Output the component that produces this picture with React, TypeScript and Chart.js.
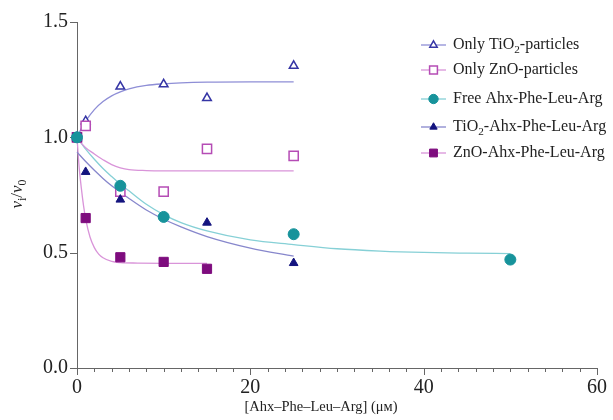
import { useEffect, useRef } from 'react';
import { Chart, registerables } from 'chart.js';
Chart.register(...registerables);

const FONT = '"Liberation Serif", "Times New Roman", serif';

// Measured points
const xOnlyTiO2 = [0, 1, 5, 10, 15, 25];
const yOnlyTiO2 = [1.0, 1.07, 1.22, 1.23, 1.17, 1.31];
const xOnlyZnO = [0, 1, 5, 10, 15, 25];
const yOnlyZnO = [1.0, 1.05, 0.765, 0.765, 0.95, 0.92];
const xFree = [0, 5, 10, 25, 50];
const yFree = [1.0, 0.79, 0.655, 0.58, 0.47];
const xTiO2Pep = [0, 1, 5, 15, 25];
const yTiO2Pep = [1.0, 0.85, 0.73, 0.63, 0.455];
const xZnOPep = [0, 1, 5, 10, 15];
const yZnOPep = [1.0, 0.65, 0.48, 0.46, 0.43];

// Fitted curves
const fxOnlyTiO2 = [0, 0.5, 1, 2, 3, 4, 5, 6, 8, 10, 12, 15, 20, 25];
const fyOnlyTiO2 = [1.0, 1.038, 1.07, 1.12, 1.155, 1.18, 1.197, 1.21, 1.225, 1.232, 1.236, 1.239, 1.24, 1.24];
const fxOnlyZnO = [0, 0.5, 1, 2, 2.5, 3, 4, 5, 6, 8, 10, 15, 20, 25];
const fyOnlyZnO = [1.0, 0.975, 0.955, 0.928, 0.915, 0.903, 0.882, 0.868, 0.86, 0.856, 0.855, 0.855, 0.855, 0.855];
const fxFree = [0, 1, 2, 3, 4, 5, 6, 8, 10, 12, 15, 20, 25, 30, 35, 40, 45, 50];
const fyFree = [1.0, 0.949, 0.905, 0.865, 0.83, 0.797, 0.768, 0.71, 0.665, 0.63, 0.594, 0.555, 0.535, 0.517, 0.507, 0.501, 0.498, 0.496];
const fxTiO2Pep = [0, 1, 2, 3, 4, 5, 6, 8, 10, 12, 15, 20, 25];
const fyTiO2Pep = [0.936, 0.895, 0.857, 0.822, 0.79, 0.762, 0.735, 0.685, 0.645, 0.612, 0.57, 0.52, 0.485];
const fxZnOPep = [0, 0.25, 0.5, 0.75, 1, 1.5, 2, 2.5, 3, 4, 5, 7, 10, 15];
const fyZnOPep = [1.0, 0.87, 0.78, 0.705, 0.647, 0.568, 0.522, 0.494, 0.478, 0.462, 0.457, 0.455, 0.454, 0.454];

const xTicks = [0, 20, 40, 60];
const xMinorStep = 2;
const yTicks = [0, 0.5, 1.0, 1.5];

type Part = { t: string; sub?: boolean; it?: boolean };
const legendParts: Part[][] = [
  [{ t: 'Only TiO' }, { t: '2', sub: true }, { t: '-particles' }],
  [{ t: 'Only ZnO-particles' }],
  [{ t: 'Free Ahx-Phe-Leu-Arg' }],
  [{ t: 'TiO' }, { t: '2', sub: true }, { t: '-Ahx-Phe-Leu-Arg' }],
  [{ t: 'ZnO-Ahx-Phe-Leu-Arg' }],
];
const yTitleParts: Part[] = [{ t: 'v', it: true }, { t: 'i', sub: true }, { t: '/' }, { t: 'v', it: true }, { t: '0', sub: true }];
const xTitle = '[Ahx–Phe–Leu–Arg] (μм)';

const markerColors = ['#3535a5', '#b54cb5', '#17939b', '#14147f', '#7e0c7e'];
const curveColors = ['#8e8ed6', '#d994d9', '#86d0d6', '#8787cc', '#d994d9'];
const styles = ['triangle', 'rect', 'circle', 'triangle', 'rect'];
const filled = [false, false, true, true, true];
const radii = [5, 6.5, 5.5, 5, 6.5];
// draw order of marker series (lower = on top)
const markerOrder = [4, 3, 0, 2, 1];

const zip = (xs: number[], ys: number[]) => xs.map((x, i) => ({ x, y: ys[i] }));

function drawRich(ctx: CanvasRenderingContext2D, parts: Part[], x: number, y: number, size: number, center = false) {
  const setFont = (p: Part) => {
    const s = p.sub ? size * 0.7 : size;
    ctx.font = `${p.it ? 'italic ' : ''}${s}px ${FONT}`;
  };
  let w = 0;
  for (const p of parts) { setFont(p); w += ctx.measureText(p.t).width; }
  let cx = center ? x - w / 2 : x;
  for (const p of parts) {
    setFont(p);
    ctx.fillText(p.t, cx, p.sub ? y + size * 0.3 : y);
    cx += ctx.measureText(p.t).width;
  }
}

function drawMarker(ctx: CanvasRenderingContext2D, style: string, x: number, y: number, r: number, color: string, fill: boolean) {
  ctx.beginPath();
  if (style === 'triangle') {
    let a = 0;
    ctx.moveTo(x + Math.sin(a) * r, y - Math.cos(a) * r);
    a += (2 * Math.PI) / 3;
    ctx.lineTo(x + Math.sin(a) * r, y - Math.cos(a) * r);
    a += (2 * Math.PI) / 3;
    ctx.lineTo(x + Math.sin(a) * r, y - Math.cos(a) * r);
    ctx.closePath();
  } else if (style === 'rect') {
    const s = Math.SQRT1_2 * r;
    ctx.rect(x - s, y - s, 2 * s, 2 * s);
  } else {
    ctx.arc(x, y, r, 0, Math.PI * 2);
  }
  ctx.fillStyle = fill ? color : '#ffffff';
  ctx.fill();
  ctx.strokeStyle = color;
  ctx.lineWidth = fill ? 1 : 1.5;
  ctx.stroke();
}

const legendRows = [45, 70, 99, 127, 153];

const axisTicks = {
  id: 'axisTicks',
  beforeDatasetsDraw(chart: any) {
    const ctx: CanvasRenderingContext2D = chart.ctx;
    const xs = chart.scales.x;
    const ys = chart.scales.y;
    ctx.save();
    ctx.strokeStyle = '#666';
    ctx.lineWidth = 1;
    for (let v = xs.min; v <= xs.max + 1e-9; v += xMinorStep) {
      const major = xTicks.includes(v);
      const px = Math.round(xs.getPixelForValue(v)) + 0.5;
      ctx.beginPath();
      ctx.moveTo(px, ys.bottom);
      ctx.lineTo(px, ys.bottom + (major ? 7 : 4));
      ctx.stroke();
    }
    for (const v of yTicks) {
      const py = Math.round(ys.getPixelForValue(v)) + 0.5;
      ctx.beginPath();
      ctx.moveTo(xs.left, py);
      ctx.lineTo(xs.left - 7, py);
      ctx.stroke();
    }
    ctx.restore();
  },
};

const overlay = {
  id: 'overlay',
  afterDraw(chart: any) {
    const ctx: CanvasRenderingContext2D = chart.ctx;
    ctx.save();
    ctx.textBaseline = 'middle';
    ctx.textAlign = 'left';
    legendParts.forEach((parts, i) => {
      const y = legendRows[i];
      ctx.strokeStyle = curveColors[i];
      ctx.lineWidth = 1.3;
      ctx.beginPath();
      ctx.moveTo(421, y);
      ctx.lineTo(446, y);
      ctx.stroke();
      drawMarker(ctx, styles[i], 433.5, y, radii[i] * 0.85, markerColors[i], filled[i]);
      ctx.fillStyle = '#222';
      drawRich(ctx, parts, 453, y, 16);
    });
    ctx.translate(18, 194);
    ctx.rotate(-Math.PI / 2);
    ctx.fillStyle = '#222';
    drawRich(ctx, yTitleParts, 0, 0, 17, true);
    ctx.restore();
    ctx.save();
    ctx.fillStyle = '#222';
    ctx.textAlign = 'center';
    ctx.textBaseline = 'middle';
    ctx.font = `14.5px ${FONT}`;
    ctx.fillText(xTitle, 321, 407);
    ctx.restore();
  },
};

export default function App() {
  const ref = useRef<HTMLCanvasElement>(null);
  useEffect(() => {
    document.body.style.margin = '0';
    const pts = [zip(xOnlyTiO2, yOnlyTiO2), zip(xOnlyZnO, yOnlyZnO), zip(xFree, yFree), zip(xTiO2Pep, yTiO2Pep), zip(xZnOPep, yZnOPep)];
    const fits = [zip(fxOnlyTiO2, fyOnlyTiO2), zip(fxOnlyZnO, fyOnlyZnO), zip(fxFree, fyFree), zip(fxTiO2Pep, fyTiO2Pep), zip(fxZnOPep, fyZnOPep)];
    const labels = legendParts.map((p) => p.map((q) => q.t).join(''));
    const lineSets = fits.map((d, i) => ({
      type: 'line' as const,
      label: labels[i] + ' fit',
      data: d,
      order: 20 + i,
      borderColor: curveColors[i],
      borderWidth: 1.3,
      pointRadius: 0,
      fill: false,
      clip: false,
      cubicInterpolationMode: 'monotone' as const,
    }));
    const scatterSets = pts.map((d, i) => ({
      type: 'scatter' as const,
      label: labels[i],
      data: d,
      order: markerOrder[i],
      clip: false,
      pointStyle: styles[i] as any,
      pointRadius: radii[i],
      pointBorderColor: markerColors[i],
      pointBackgroundColor: filled[i] ? markerColors[i] : '#ffffff',
      pointBorderWidth: filled[i] ? 1 : 1.5,
      borderColor: markerColors[i],
      backgroundColor: filled[i] ? markerColors[i] : '#ffffff',
    }));
    const chart = new Chart(ref.current!, {
      type: 'scatter',
      data: { datasets: [...lineSets, ...scatterSets] as any },
      plugins: [axisTicks, overlay],
      options: {
        animation: false,
        responsive: false,
        devicePixelRatio: 1,
        layout: { padding: { top: 22, right: 16, left: 0, bottom: 0 } },
        plugins: { legend: { display: false }, tooltip: { enabled: false } },
        scales: {
          x: {
            type: 'linear',
            min: 0,
            max: 60,
            afterFit: (s: any) => { s.height = 52; },
            border: { color: '#666', width: 1 },
            grid: { drawOnChartArea: false, tickLength: 4, color: 'rgba(0,0,0,0)' },
            afterBuildTicks: (s: any) => { s.ticks = xTicks.map((v) => ({ value: v })); },
            ticks: {
              autoSkip: false,
              maxRotation: 0,
              padding: 4,
              color: '#222',
              font: { family: FONT, size: 20 },
            },
          },
          y: {
            type: 'linear',
            min: 0,
            max: 1.5,
            afterFit: (s: any) => { s.width = 77; },
            border: { color: '#666', width: 1 },
            grid: { drawOnChartArea: false, tickLength: 7, color: 'rgba(0,0,0,0)' },
            afterBuildTicks: (s: any) => { s.ticks = yTicks.map((v) => ({ value: v })); },
            ticks: {
              padding: 2,
              color: '#222',
              font: { family: FONT, size: 20 },
              callback: (v: any) => Number(v).toFixed(1),
            },
          },
        },
      },
    });
    return () => chart.destroy();
  }, []);
  return (
    <div style={{ width: 613, height: 420 }}>
      <canvas ref={ref} width={613} height={420} />
    </div>
  );
}
